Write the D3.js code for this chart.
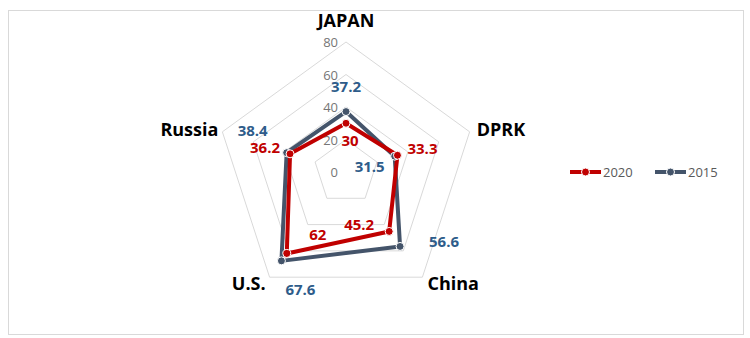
<!DOCTYPE html>
<html>
<head>
<meta charset="utf-8">
<script src="https://cdn.jsdelivr.net/npm/d3@7"></script>
<style>
  body { margin: 0; background: #fff; }
  text { font-family: "Open Sans", "Noto Sans", sans-serif; }
</style>
</head>
<body>
<div class="canvas"></div>
<script>
// data
const categories = ['JAPAN', 'DPRK', 'China', 'U.S.', 'Russia'];
const seriesNames = ['2020', '2015'];
const values2020 = [30, 33.3, 45.2, 62, 36.2];
const values2015 = [37.2, 31.5, 56.6, 67.6, 38.4];
const tickValues = [0, 20, 40, 60, 80];

// styles and layout
const colors = { '2020': '#c00000', '2015': '#44546a' };
const labelColors = { '2020': '#c00000', '2015': '#2e5c8a' };
// label offsets from each point (excel placed them by hand)
const labelOffsets = {
    '2020': [[4, 18], [25, -6], [-30, -6], [31, -19], [-25, -6]],
    '2015': [[0, -25], [-25, 11], [44, -4], [19, 29], [-34, -22]]
};

const width = 750, height = 338;
const cx = 346, cy = 172, radius = 130;

const svg = d3.select('.canvas')
    .append('svg')
    .attr('width', width)
    .attr('height', height);

// chart border
svg.append('rect')
    .attr('x', 8.5).attr('y', 10.5)
    .attr('width', 735).attr('height', 324)
    .attr('fill', 'none')
    .attr('stroke', '#d9d9d9');

const r = d3.scaleLinear().domain([0, 80]).range([0, radius]);
const angle = i => i * 2 * Math.PI / categories.length;
const px = (i, v) => cx + r(v) * Math.sin(angle(i));
const py = (i, v) => cy - r(v) * Math.cos(angle(i));

const graph = svg.append('g');

// grid pentagons
tickValues.filter(t => t > 0).forEach(t => {
    graph.append('polygon')
        .attr('points', categories.map((c, i) => [px(i, t), py(i, t)].join(',')).join(' '))
        .attr('fill', 'none')
        .attr('stroke', '#d9d9d9')
        .attr('stroke-width', 1);
});

// tick labels
graph.selectAll('.tick-label')
    .data(tickValues)
    .enter().append('text')
    .attr('x', cx - 8)
    .attr('y', d => cy - r(d) + 5)
    .attr('text-anchor', 'end')
    .attr('font-size', 13)
    .attr('fill', '#767676')
    .text(d => d);

// category labels
const catPos = [
    { dx: 0, dy: -15, anchor: 'middle' },
    { dx: 7, dy: 4, anchor: 'start' },
    { dx: 5, dy: 13, anchor: 'start' },
    { dx: -4, dy: 13, anchor: 'end' },
    { dx: -4, dy: 4, anchor: 'end' }
];
graph.selectAll('.cat')
    .data(categories)
    .enter().append('text')
    .attr('x', (d, i) => px(i, 80) + catPos[i].dx)
    .attr('y', (d, i) => py(i, 80) + catPos[i].dy)
    .attr('text-anchor', (d, i) => catPos[i].anchor)
    .attr('font-size', 18)
    .attr('font-weight', 'bold')
    .attr('fill', '#000')
    .text(d => d);

// series
const series = [
    { name: '2015', values: values2015 },
    { name: '2020', values: values2020 }
];

const line = d3.lineRadial()
    .angle((d, i) => angle(i))
    .radius(d => r(d))
    .curve(d3.curveLinearClosed);

series.forEach(s => {
    const g = graph.append('g').attr('transform', `translate(${cx}, ${cy})`);
    g.append('path')
        .datum(s.values)
        .attr('d', line)
        .attr('fill', 'none')
        .attr('stroke', colors[s.name])
        .attr('stroke-width', 4)
        .attr('stroke-linejoin', 'round');
});

series.forEach(s => {
    graph.selectAll('.pt' + s.name)
        .data(s.values)
        .enter().append('circle')
        .attr('cx', (d, i) => px(i, d))
        .attr('cy', (d, i) => py(i, d))
        .attr('r', 4)
        .attr('fill', colors[s.name])
        .attr('stroke', '#fff')
        .attr('stroke-width', 1);
});

// data labels
series.forEach(s => {
    graph.selectAll('.lbl' + s.name)
        .data(s.values)
        .enter().append('text')
        .attr('x', (d, i) => px(i, d) + labelOffsets[s.name][i][0])
        .attr('y', (d, i) => py(i, d) + labelOffsets[s.name][i][1] + 5)
        .attr('text-anchor', 'middle')
        .attr('font-size', 15)
        .attr('font-weight', 'bold')
        .attr('fill', labelColors[s.name])
        .text(d => d);
});

// legend
const legend = svg.append('g');
const legendItems = [
    { name: '2020', x: 570 },
    { name: '2015', x: 655 }
];
legendItems.forEach(item => {
    legend.append('line')
        .attr('x1', item.x).attr('x2', item.x + 31)
        .attr('y1', 172).attr('y2', 172)
        .attr('stroke', colors[item.name])
        .attr('stroke-width', 4);
    legend.append('circle')
        .attr('cx', item.x + 15.5).attr('cy', 172)
        .attr('r', 4)
        .attr('fill', colors[item.name])
        .attr('stroke', '#fff')
        .attr('stroke-width', 1);
    legend.append('text')
        .attr('x', item.x + 33)
        .attr('y', 177)
        .attr('font-size', 13)
        .attr('fill', '#595959')
        .text(item.name);
});
</script>
</body>
</html>
